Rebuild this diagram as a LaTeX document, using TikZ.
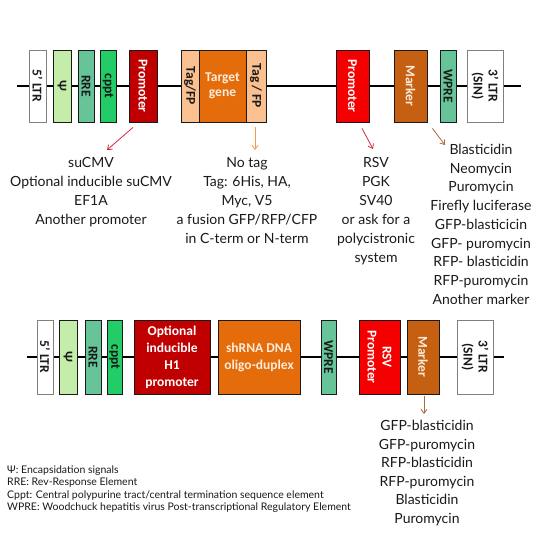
\documentclass[tikz,border=0pt]{standalone}
\usepackage{fontspec}
\setmainfont{Lato}
\newfontfamily\carlito{Carlito}[BoldFont={Carlito Bold}]
\usetikzlibrary{arrows.meta}
\definecolor{vecInk}{HTML}{1A1A1A}
\definecolor{vecGray}{HTML}{808080}
\definecolor{vecPsi}{HTML}{C4EDA9}
\definecolor{vecRre}{HTML}{66C498}
\definecolor{vecCppt}{HTML}{22CC66}
\definecolor{vecDarkRed}{HTML}{C00000}
\definecolor{vecRed}{HTML}{F50000}
\definecolor{vecTag}{HTML}{FAC090}
\definecolor{vecOrange}{HTML}{E46C0A}
\definecolor{vecMarker}{HTML}{C55F12}
\definecolor{vecPeach}{HTML}{FDEBDC}
\definecolor{vecArrRed}{HTML}{D42A45}
\definecolor{vecArrOrange}{HTML}{F39A4E}
\definecolor{vecArrBrown}{HTML}{B06A3A}
\newcommand{\vecboxfont}{\carlito\bfseries\fontsize{13.5}{15}\selectfont}
\newcommand{\veclistfont}{\fontsize{14}{19}\selectfont}
\tikzset{
  vec backbone/.style={draw=black, line width=1.6pt},
  vec box/.style={draw=vecInk, line width=0.8pt, minimum height=72pt,
    inner sep=0pt, align=center, font=\vecboxfont},
  vec ltr/.style={vec box, draw=vecGray, fill=white},
  vec side text/.style={rotate=-90, inner sep=0pt, align=center,
    font=\vecboxfont},
  vec side/.style 2 args={label={[vec side text, text=#1]center:#2}},
  vec arrow/.style={-{Straight Barb[length=4pt,width=6pt]}, line width=0.8pt},
  vec list/.style={anchor=north, align=center, inner sep=0pt,
    font=\veclistfont, text=vecInk}
}
\begin{document}
\begin{tikzpicture}[x=1pt,y=-1pt]
  \path[use as bounding box, fill=white] (0,0) rectangle (540,533);

  % first vector: expression construct
  \coordinate (topstart) at (17,86);
  \coordinate (topend) at (521,86);
  \draw[vec backbone] (topstart) -- (topend);
  \node[vec ltr, minimum width=17pt, vec side={vecInk}{5’ LTR}] (ltr5a) at (37.5,86) {};
  \node[vec box, fill=vecPsi, minimum width=18pt, vec side={vecInk}{Ψ}] (psia) at (62,86) {};
  \node[vec box, fill=vecRre, minimum width=16pt, vec side={vecInk}{RRE}] (rrea) at (86,86) {};
  \node[vec box, fill=vecCppt, minimum width=16pt, vec side={vecInk}{cppt}] (cppta) at (108,86) {};
  \node[vec box, fill=vecDarkRed, minimum width=28pt, vec side={white}{Promoter}] (proma) at (143,86) {};
  \node[vec box, fill=vecTag, minimum width=18pt, vec side={vecInk}{Tag/FP}] (taga) at (190,86) {};
  \node[vec box, fill=vecOrange, minimum width=47pt, text=vecPeach] (genea) at (222.5,86) {Target\\gene};
  \node[vec box, fill=vecTag, minimum width=20pt, vec side={vecInk}{Tag / FP}] (tagb) at (256,86) {};
  \node[vec box, fill=vecRed, minimum width=33pt, vec side={white}{Promoter}] (promb) at (352.5,86) {};
  \node[vec box, fill=vecMarker, minimum width=33pt, vec side={vecPeach}{Marker}] (markera) at (410.5,86) {};
  \node[vec box, fill=vecRre, minimum width=16pt, vec side={vecInk}{WPRE}] (wprea) at (448,86) {};
  \node[vec ltr, minimum width=36pt, vec side={vecInk}{3’ LTR\\(SIN)}] (ltr3a) at (485,86) {};

  % choices below the first vector
  \node[vec list] (promlist) at (91,157.5)
    {suCMV\\Optional inducible suCMV\\EF1A\\Another promoter};
  \node[vec list] (taglist) at (247,157.5)
    {No tag\\Tag: 6His, HA,\\Myc, V5\\a fusion GFP/RFP/CFP\\in C-term or N-term};
  \node[vec list] (promlistb) at (376,157.5)
    {RSV\\PGK\\SV40\\or ask for a\\polycistronic\\system};
  \node[vec list, font=\fontsize{14}{18.7}\selectfont] (markerlist) at (481,144)
    {Blasticidin\\Neomycin\\Puromycin\\Firefly luciferase\\GFP-blasticicin\\
     GFP- puromycin\\RFP- blasticidin\\RFP-puromycin\\Another marker};

  \coordinate (promtip) at (107,150);
  \coordinate (tagtip) at (255,150);
  \coordinate (promtipb) at (373,149);
  \coordinate (markertip) at (445,145);
  \draw[vec arrow, vecArrRed] ([xshift=-10pt,yshift=-5pt]proma.south) -- (promtip);
  \draw[vec arrow, vecArrOrange] ([xshift=-1pt,yshift=-5pt]tagb.south) -- (tagtip);
  \draw[vec arrow, vecArrRed] ([xshift=9.5pt,yshift=-6pt]promb.south) -- (promtipb);
  \draw[vec arrow, vecArrBrown] ([xshift=5pt,yshift=-6pt]markera.south east) -- (markertip);

  % second vector: shRNA construct
  \coordinate (botstart) at (27,357);
  \coordinate (botend) at (504,357);
  \draw[vec backbone] (botstart) -- (botend);
  \node[vec ltr, minimum width=16pt, minimum height=74pt, vec side={vecInk}{5’ LTR}] (ltr5b) at (45,357) {};
  \node[vec box, fill=vecPsi, minimum width=18pt, minimum height=74pt, vec side={vecInk}{Ψ}] (psib) at (68,357) {};
  \node[vec box, fill=vecRre, minimum width=16pt, minimum height=74pt, vec side={vecInk}{RRE}] (rreb) at (93,357) {};
  \node[vec box, fill=vecCppt, minimum width=15pt, minimum height=74pt, vec side={vecInk}{cppt}] (cpptb) at (114.5,357) {};
  \node[vec box, fill=vecDarkRed, minimum width=76pt, minimum height=74pt, text=white,
    font=\carlito\bfseries\fontsize{13.5}{17}\selectfont] (h1b) at (172,357)
    {Optional\\inducible\\H1\\promoter};
  \node[vec box, fill=vecOrange, minimum width=82pt, minimum height=74pt, text=vecPeach,
    font=\carlito\bfseries\fontsize{13.5}{17}\selectfont] (shrnab) at (259,357)
    {shRNA DNA\\oligo-duplex};
  \node[vec box, fill=vecRre, minimum width=15pt, minimum height=74pt, vec side={vecInk}{WPRE}] (wpreb) at (328.5,357) {};
  \node[vec box, fill=vecRed, minimum width=41pt, minimum height=74pt, vec side={white}{RSV\\Promoter}] (rsvb) at (379.5,357) {};
  \node[vec box, fill=vecMarker, minimum width=32pt, minimum height=74pt, vec side={vecPeach}{Marker}] (markerb) at (423,357) {};
  \node[vec ltr, minimum width=36pt, minimum height=74pt, vec side={vecInk}{3’ LTR\\(SIN)}] (ltr3b) at (475,357) {};

  \node[vec list, font=\fontsize{14}{18.6}\selectfont] (markerlistb) at (427,420)
    {GFP-blasticidin\\GFP-puromycin\\RFP-blasticidin\\RFP-puromycin\\Blasticidin\\Puromycin};
  \coordinate (markertipb) at (424,414);
  \draw[vec arrow, vecArrBrown] ([xshift=1pt,yshift=-2pt]markerb.south) -- (markertipb);

  % abbreviations
  \node[anchor=north west, align=left, inner sep=0pt, text=vecInk,
    font=\fontsize{10.5}{12.4}\selectfont] (legend) at (7,465.5)
    {Ψ: Encapsidation signals\\
     RRE: Rev-Response Element\\
     Cppt: Central polypurine tract/central termination sequence element\\
     WPRE: Woodchuck hepatitis virus Post-transcriptional Regulatory Element};
\end{tikzpicture}
\end{document}
